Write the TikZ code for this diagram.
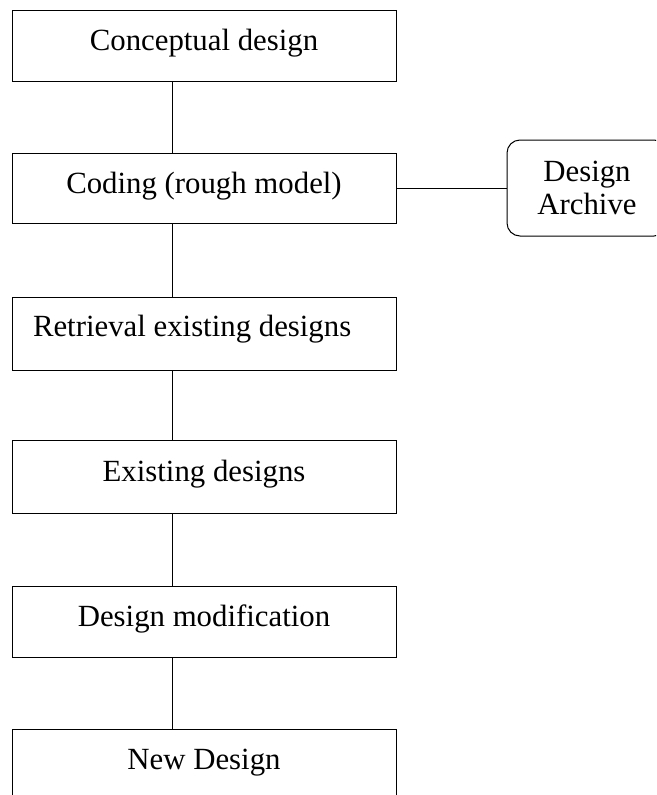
\documentclass[tikz,border=0pt]{standalone}
\usepackage{fontspec}
\setmainfont{Liberation Serif}

\begin{document}
\begin{tikzpicture}[
    x=1pt,y=-1pt,
    font=\fontsize{30.8}{33.3}\selectfont,
    stage/.style={draw,line width=1pt,minimum width=384pt,
      minimum height=71pt,inner sep=0pt,text height=21pt,text depth=10.6pt},
    store/.style={draw,line width=1pt,rounded corners=13pt,
      minimum width=160pt,minimum height=96pt,align=center},
    link/.style={line width=1pt}
  ]
    \useasboundingbox (0,0) rectangle (656,795);
    \clip (0,0) rectangle (656,795);

    % the chain of design stages, joined off-centre along one spine
    \coordinate (spine) at (172,0);
    \node[stage] (concept) at (204,45.5) {Conceptual design};
    \node[stage,minimum height=70pt] (coding) at (204,188)
      {Coding (rough model)};
    \node[stage,minimum height=73pt,text width=342pt,inner xsep=21pt,
      align=flush left,text depth=15.6pt] (retrieval) at (204,333.5)
      {Retrieval existing designs};
    \node[stage,minimum height=73pt] (existing) at (204,476.5)
      {Existing designs};
    \node[stage] (modify) at (204,621.5) {Design modification};
    \node[stage] (newdesign) at (204,764.5) {New Design};

    \node[store] (archive) at (587,188) {Design\\Archive};

    \foreach \a/\b in {concept/coding,coding/retrieval,retrieval/existing,
      existing/modify,modify/newdesign}
      \draw[link] (\a.south -| spine) -- (\b.north -| spine);
    \draw[link] (coding.east) -- (archive.west);
  \end{tikzpicture}
\end{document}
